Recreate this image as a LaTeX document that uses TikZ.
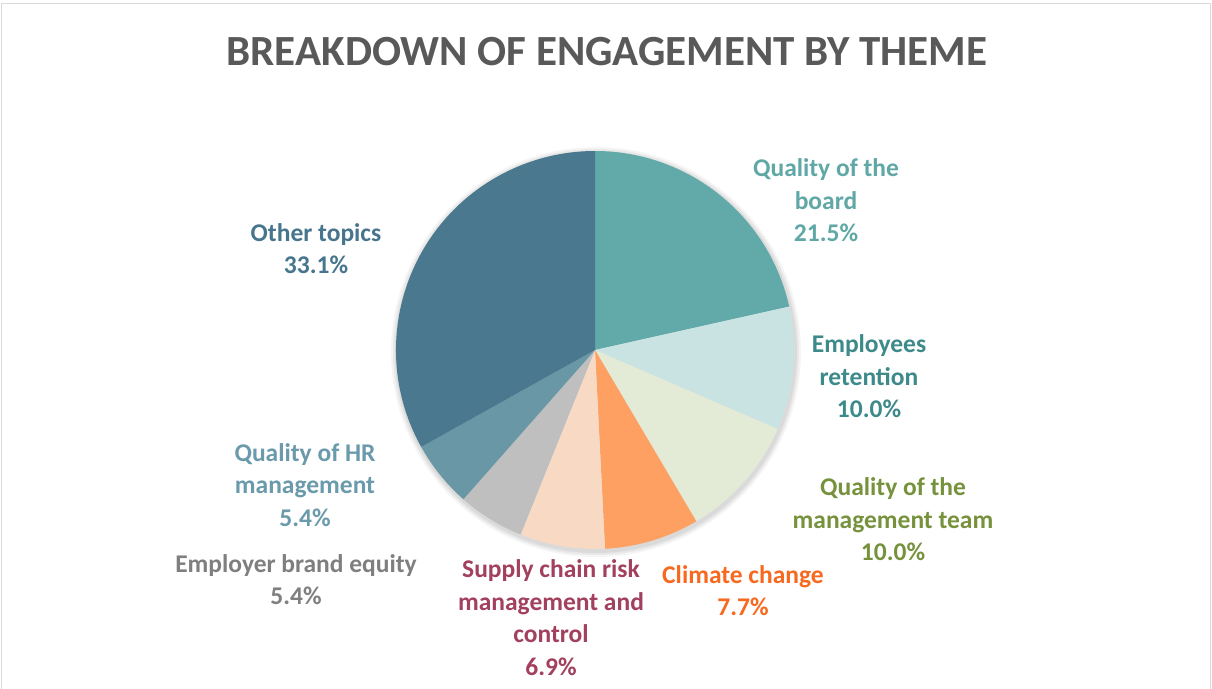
\documentclass[tikz,border=0pt]{standalone}
\usepackage{fontspec}
\setmainfont{Carlito}
\usetikzlibrary{calc}
\definecolor{cBoard}{HTML}{62AAA9}
\definecolor{cRet}{HTML}{C9E3E3}
\definecolor{cMgmt}{HTML}{E3EAD6}
\definecolor{cClim}{HTML}{FDA062}
\definecolor{cSupp}{HTML}{F8D9C4}
\definecolor{cBrand}{HTML}{BFBFBF}
\definecolor{cHR}{HTML}{6A97A6}
\definecolor{cOther}{HTML}{4A788E}
\definecolor{tBoard}{HTML}{5FA8A6}
\definecolor{tRet}{HTML}{3D8A8B}
\definecolor{tMgmt}{HTML}{76923C}
\definecolor{tClim}{HTML}{F7691F}
\definecolor{tSupp}{HTML}{A2405E}
\definecolor{tBrand}{HTML}{7F7F7F}
\definecolor{tHR}{HTML}{6A9AAB}
\definecolor{tOther}{HTML}{46758D}
\definecolor{frame}{HTML}{D9D9D9}
\definecolor{titlec}{HTML}{595959}
\begin{document}
\begin{tikzpicture}[x=1pt,y=1pt,
  lbl/.style={align=center,font=\fontsize{25.5}{32.5}\selectfont\bfseries,inner sep=0pt}]
\useasboundingbox (0,0) rectangle (1212,-688);
\fill[white] (0,0) rectangle (1212,-688);
\draw[frame,line width=1.5pt] (1.5,-700) -- (1.5,-3.5) -- (1210.5,-3.5) -- (1210.5,-700);
\node[font=\fontsize{43}{50}\selectfont\bfseries,text=titlec,inner sep=0pt] (title) at (607,-52) {BREAKDOWN OF ENGAGEMENT BY THEME};
\coordinate (c) at (595,-350);
% soft shadow
\foreach \k/\o in {6/0.04,4/0.05,2/0.06}{
  \fill[black,opacity=\o] ($(c)+(1,-2)$) circle[radius={199pt+\k pt}];
}
\fill[cBoard] (c) -- ++(90:199pt) arc[start angle=90,end angle=12.6,radius=199pt] -- cycle;
\fill[cRet] (c) -- ++(12.6:199pt) arc[start angle=12.6,end angle=-23.4,radius=199pt] -- cycle;
\fill[cMgmt] (c) -- ++(-23.4:199pt) arc[start angle=-23.4,end angle=-59.4,radius=199pt] -- cycle;
\fill[cClim] (c) -- ++(-59.4:199pt) arc[start angle=-59.4,end angle=-87.12,radius=199pt] -- cycle;
\fill[cSupp] (c) -- ++(-87.12:199pt) arc[start angle=-87.12,end angle=-111.96,radius=199pt] -- cycle;
\fill[cBrand] (c) -- ++(-111.96:199pt) arc[start angle=-111.96,end angle=-131.4,radius=199pt] -- cycle;
\fill[cHR] (c) -- ++(-131.4:199pt) arc[start angle=-131.4,end angle=-150.84,radius=199pt] -- cycle;
\fill[cOther] (c) -- ++(-150.84:199pt) arc[start angle=-150.84,end angle=-270,radius=199pt] -- cycle;
\node[lbl,text=tBoard] (lboard) at (826,-200.5) {Quality of the\\board\\21.5\%};
\node[lbl,text=tRet] (lret) at (869,-376.5) {Employees\\retention\\10.0\%};
\node[lbl,text=tMgmt] (lmgmt) at (893,-519.5) {Quality of the\\management team\\10.0\%};
\node[lbl,text=tClim] (lclim) at (743,-590.5) {Climate change\\7.7\%};
\node[lbl,text=tSupp] (lsupp) at (551,-617.5) {Supply chain risk\\management and\\control\\6.9\%};
\node[lbl,text=tBrand] (lbrand) at (296,-579.5) {Employer brand equity\\5.4\%};
\node[lbl,text=tHR] (lhr) at (305,-485) {Quality of HR\\management\\5.4\%};
\node[lbl,text=tOther] (lother) at (316,-248.5) {Other topics\\33.1\%};
\end{tikzpicture}
\end{document}
